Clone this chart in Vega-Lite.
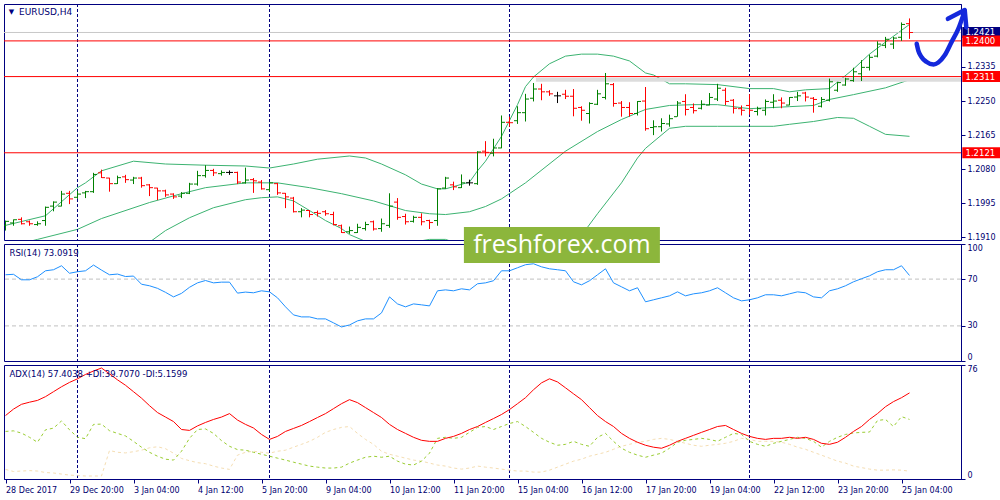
{
"$schema": "https://vega.github.io/schema/vega-lite/v6.json",
"padding": {"left": 3, "top": 3, "right": 0, "bottom": 0},
"bounds": "flush",
"spacing": 4,
"background": "white",
"datasets": {
"bars": [
{"i":0,"o":1.1940,"h":1.1952,"l":1.1927,"c":1.1950,"rsi":73.7,"adx":42.3,"pdi":31.7,"mdi":6.4},
{"i":1,"o":1.1946,"h":1.1955,"l":1.1939,"c":1.1954,"rsi":74.1,"adx":46.6,"pdi":32.1,"mdi":5.0},
{"i":2,"o":1.1955,"h":1.1960,"l":1.1942,"c":1.1944,"rsi":69.4,"adx":49.8,"pdi":30.6,"mdi":5.3},
{"i":3,"o":1.1949,"h":1.1952,"l":1.1939,"c":1.1944,"rsi":69.4,"adx":51.2,"pdi":27.8,"mdi":5.6},
{"i":4,"o":1.1942,"h":1.1950,"l":1.1939,"c":1.1944,"rsi":72.0,"adx":52.4,"pdi":24.5,"mdi":5.3},
{"i":5,"o":1.1952,"h":1.1987,"l":1.1939,"c":1.1985,"rsi":77.1,"adx":54.9,"pdi":32.8,"mdi":4.3},
{"i":6,"o":1.1988,"h":1.2000,"l":1.1975,"c":1.1998,"rsi":78.0,"adx":58.2,"pdi":33.9,"mdi":4.0},
{"i":7,"o":1.1988,"h":1.2026,"l":1.1987,"c":1.2018,"rsi":81.4,"adx":61.5,"pdi":38.7,"mdi":3.3},
{"i":8,"o":1.2020,"h":1.2026,"l":1.1993,"c":1.2006,"rsi":75.0,"adx":64.4,"pdi":32.8,"mdi":2.6},
{"i":9,"o":1.2010,"h":1.2026,"l":1.2006,"c":1.2018,"rsi":76.3,"adx":66.8,"pdi":27.8,"mdi":2.3},
{"i":10,"o":1.2021,"h":1.2026,"l":1.2008,"c":1.2024,"rsi":77.1,"adx":69.7,"pdi":26.9,"mdi":2.0},
{"i":11,"o":1.2024,"h":1.2071,"l":1.2021,"c":1.2067,"rsi":82.0,"adx":72.0,"pdi":36.4,"mdi":2.0},
{"i":12,"o":1.2071,"h":1.2079,"l":1.2058,"c":1.2059,"rsi":77.7,"adx":74.0,"pdi":36.6,"mdi":2.0},
{"i":13,"o":1.2058,"h":1.2059,"l":1.2024,"c":1.2044,"rsi":73.7,"adx":70.1,"pdi":32.2,"mdi":19.0},
{"i":14,"o":1.2044,"h":1.2064,"l":1.2043,"c":1.2059,"rsi":74.3,"adx":66.1,"pdi":30.4,"mdi":17.8},
{"i":15,"o":1.2061,"h":1.2066,"l":1.2046,"c":1.2054,"rsi":72.2,"adx":62.5,"pdi":28.7,"mdi":17.4},
{"i":16,"o":1.2053,"h":1.2061,"l":1.2043,"c":1.2058,"rsi":72.6,"adx":58.2,"pdi":25.1,"mdi":18.2},
{"i":17,"o":1.2058,"h":1.2061,"l":1.2034,"c":1.2039,"rsi":65.6,"adx":53.9,"pdi":21.2,"mdi":19.2},
{"i":18,"o":1.2041,"h":1.2043,"l":1.2013,"c":1.2034,"rsi":64.3,"adx":48.9,"pdi":17.8,"mdi":20.8},
{"i":19,"o":1.2033,"h":1.2034,"l":1.2003,"c":1.2026,"rsi":62.1,"adx":44.3,"pdi":15.2,"mdi":21.5},
{"i":20,"o":1.2026,"h":1.2029,"l":1.2011,"c":1.2016,"rsi":58.7,"adx":41.3,"pdi":13.2,"mdi":20.2},
{"i":21,"o":1.2018,"h":1.2020,"l":1.2006,"c":1.2011,"rsi":54.8,"adx":38.3,"pdi":12.6,"mdi":17.2},
{"i":22,"o":1.2013,"h":1.2023,"l":1.2008,"c":1.2020,"rsi":57.8,"adx":33.0,"pdi":18.5,"mdi":13.7},
{"i":23,"o":1.2020,"h":1.2046,"l":1.2018,"c":1.2043,"rsi":63.0,"adx":32.4,"pdi":27.1,"mdi":12.2},
{"i":24,"o":1.2043,"h":1.2076,"l":1.2039,"c":1.2064,"rsi":66.8,"adx":35.4,"pdi":33.0,"mdi":10.9},
{"i":25,"o":1.2064,"h":1.2090,"l":1.2059,"c":1.2077,"rsi":68.8,"adx":37.7,"pdi":33.4,"mdi":10.2},
{"i":26,"o":1.2077,"h":1.2081,"l":1.2063,"c":1.2071,"rsi":66.8,"adx":39.7,"pdi":30.4,"mdi":8.6},
{"i":27,"o":1.2069,"h":1.2077,"l":1.2064,"c":1.2072,"rsi":67.4,"adx":41.3,"pdi":25.6,"mdi":7.3},
{"i":28,"o":1.2072,"h":1.2077,"l":1.2066,"c":1.2072,"rsi":67.4,"adx":43.6,"pdi":21.8,"mdi":6.4},
{"i":29,"o":1.2072,"h":1.2074,"l":1.2043,"c":1.2048,"rsi":58.0,"adx":39.3,"pdi":19.6,"mdi":15.9},
{"i":30,"o":1.2046,"h":1.2084,"l":1.2044,"c":1.2053,"rsi":58.9,"adx":36.4,"pdi":19.2,"mdi":17.8},
{"i":31,"o":1.2054,"h":1.2058,"l":1.2021,"c":1.2051,"rsi":58.3,"adx":34.0,"pdi":17.8,"mdi":18.5},
{"i":32,"o":1.2048,"h":1.2053,"l":1.2029,"c":1.2031,"rsi":60.0,"adx":29.7,"pdi":16.5,"mdi":17.8},
{"i":33,"o":1.2029,"h":1.2048,"l":1.2024,"c":1.2046,"rsi":59.1,"adx":26.4,"pdi":15.2,"mdi":17.2},
{"i":34,"o":1.2044,"h":1.2046,"l":1.2016,"c":1.2021,"rsi":54.0,"adx":28.4,"pdi":13.9,"mdi":18.5},
{"i":35,"o":1.2020,"h":1.2021,"l":1.1983,"c":1.2011,"rsi":46.3,"adx":31.7,"pdi":12.6,"mdi":19.2},
{"i":36,"o":1.2008,"h":1.2011,"l":1.1972,"c":1.1974,"rsi":39.4,"adx":33.7,"pdi":11.2,"mdi":21.2},
{"i":37,"o":1.1974,"h":1.1983,"l":1.1960,"c":1.1978,"rsi":37.7,"adx":35.7,"pdi":9.9,"mdi":23.1},
{"i":38,"o":1.1977,"h":1.1978,"l":1.1960,"c":1.1967,"rsi":37.7,"adx":38.3,"pdi":8.6,"mdi":25.1},
{"i":39,"o":1.1972,"h":1.1977,"l":1.1962,"c":1.1970,"rsi":36.0,"adx":41.0,"pdi":7.9,"mdi":27.8},
{"i":40,"o":1.1974,"h":1.1978,"l":1.1964,"c":1.1969,"rsi":36.0,"adx":43.6,"pdi":7.3,"mdi":31.1},
{"i":41,"o":1.1967,"h":1.1974,"l":1.1940,"c":1.1942,"rsi":32.6,"adx":46.9,"pdi":7.3,"mdi":33.0},
{"i":42,"o":1.1939,"h":1.1942,"l":1.1921,"c":1.1922,"rsi":29.1,"adx":50.2,"pdi":7.9,"mdi":34.4},
{"i":43,"o":1.1924,"h":1.1937,"l":1.1919,"c":1.1927,"rsi":30.8,"adx":52.9,"pdi":10.6,"mdi":35.0},
{"i":44,"o":1.1922,"h":1.1944,"l":1.1921,"c":1.1935,"rsi":34.3,"adx":50.9,"pdi":12.6,"mdi":30.4},
{"i":45,"o":1.1932,"h":1.1949,"l":1.1927,"c":1.1942,"rsi":36.0,"adx":47.6,"pdi":14.5,"mdi":26.4},
{"i":46,"o":1.1949,"h":1.1952,"l":1.1927,"c":1.1931,"rsi":36.0,"adx":44.3,"pdi":15.2,"mdi":23.1},
{"i":47,"o":1.1932,"h":1.1957,"l":1.1924,"c":1.1944,"rsi":41.1,"adx":41.0,"pdi":14.5,"mdi":18.5},
{"i":48,"o":1.1940,"h":1.2020,"l":1.1934,"c":1.1988,"rsi":54.8,"adx":36.4,"pdi":15.2,"mdi":16.5},
{"i":49,"o":1.1998,"h":1.2008,"l":1.1954,"c":1.1960,"rsi":48.8,"adx":33.0,"pdi":11.9,"mdi":15.2},
{"i":50,"o":1.1962,"h":1.1969,"l":1.1942,"c":1.1949,"rsi":46.3,"adx":30.4,"pdi":9.9,"mdi":13.9},
{"i":51,"o":1.1950,"h":1.1964,"l":1.1947,"c":1.1960,"rsi":48.8,"adx":27.8,"pdi":9.3,"mdi":12.6},
{"i":52,"o":1.1960,"h":1.1970,"l":1.1940,"c":1.1949,"rsi":48.0,"adx":25.8,"pdi":11.9,"mdi":11.9},
{"i":53,"o":1.1952,"h":1.1954,"l":1.1931,"c":1.1947,"rsi":47.1,"adx":25.1,"pdi":17.2,"mdi":10.6},
{"i":54,"o":1.1952,"h":1.2033,"l":1.1939,"c":1.2031,"rsi":60.0,"adx":25.1,"pdi":27.1,"mdi":9.3},
{"i":55,"o":1.2033,"h":1.2061,"l":1.2031,"c":1.2058,"rsi":60.8,"adx":27.1,"pdi":27.8,"mdi":8.6},
{"i":56,"o":1.2041,"h":1.2049,"l":1.2028,"c":1.2036,"rsi":60.0,"adx":28.4,"pdi":27.1,"mdi":7.3},
{"i":57,"o":1.2034,"h":1.2067,"l":1.2033,"c":1.2046,"rsi":61.7,"adx":30.4,"pdi":27.8,"mdi":6.6},
{"i":58,"o":1.2046,"h":1.2054,"l":1.2039,"c":1.2046,"rsi":60.8,"adx":33.0,"pdi":31.1,"mdi":7.3},
{"i":59,"o":1.2044,"h":1.2125,"l":1.2041,"c":1.2123,"rsi":66.0,"adx":35.0,"pdi":34.4,"mdi":8.6},
{"i":60,"o":1.2125,"h":1.2150,"l":1.2112,"c":1.2122,"rsi":66.8,"adx":37.7,"pdi":35.0,"mdi":7.9},
{"i":61,"o":1.2120,"h":1.2156,"l":1.2112,"c":1.2133,"rsi":68.6,"adx":40.3,"pdi":33.0,"mdi":7.3},
{"i":62,"o":1.2133,"h":1.2214,"l":1.2132,"c":1.2197,"rsi":77.1,"adx":43.0,"pdi":35.0,"mdi":6.6},
{"i":63,"o":1.2197,"h":1.2211,"l":1.2186,"c":1.2196,"rsi":77.1,"adx":46.3,"pdi":37.0,"mdi":5.9},
{"i":64,"o":1.2201,"h":1.2237,"l":1.2193,"c":1.2221,"rsi":79.7,"adx":50.2,"pdi":38.3,"mdi":5.3},
{"i":65,"o":1.2221,"h":1.2268,"l":1.2199,"c":1.2255,"rsi":82.3,"adx":54.2,"pdi":35.0,"mdi":5.3},
{"i":66,"o":1.2257,"h":1.2295,"l":1.2249,"c":1.2280,"rsi":83.1,"adx":59.5,"pdi":31.1,"mdi":4.6},
{"i":67,"o":1.2280,"h":1.2293,"l":1.2252,"c":1.2273,"rsi":80.5,"adx":64.1,"pdi":27.1,"mdi":4.6},
{"i":68,"o":1.2273,"h":1.2277,"l":1.2263,"c":1.2268,"rsi":78.8,"adx":66.8,"pdi":24.5,"mdi":5.9},
{"i":69,"o":1.2263,"h":1.2273,"l":1.2245,"c":1.2263,"rsi":78.0,"adx":64.7,"pdi":22.5,"mdi":7.9},
{"i":70,"o":1.2267,"h":1.2278,"l":1.2255,"c":1.2262,"rsi":77.1,"adx":60.8,"pdi":23.1,"mdi":9.9},
{"i":71,"o":1.2262,"h":1.2280,"l":1.2212,"c":1.2232,"rsi":67.7,"adx":56.8,"pdi":25.1,"mdi":11.9},
{"i":72,"o":1.2234,"h":1.2237,"l":1.2201,"c":1.2227,"rsi":65.1,"adx":52.9,"pdi":23.1,"mdi":13.2},
{"i":73,"o":1.2219,"h":1.2247,"l":1.2194,"c":1.2244,"rsi":68.6,"adx":47.6,"pdi":21.8,"mdi":15.2},
{"i":74,"o":1.2242,"h":1.2278,"l":1.2240,"c":1.2268,"rsi":73.7,"adx":42.3,"pdi":27.8,"mdi":16.5},
{"i":75,"o":1.2259,"h":1.2320,"l":1.2254,"c":1.2293,"rsi":78.8,"adx":38.3,"pdi":30.4,"mdi":17.8},
{"i":76,"o":1.2291,"h":1.2295,"l":1.2236,"c":1.2244,"rsi":66.8,"adx":35.0,"pdi":25.1,"mdi":19.8},
{"i":77,"o":1.2245,"h":1.2250,"l":1.2211,"c":1.2234,"rsi":63.4,"adx":30.4,"pdi":20.5,"mdi":21.8},
{"i":78,"o":1.2234,"h":1.2247,"l":1.2211,"c":1.2219,"rsi":60.0,"adx":27.1,"pdi":17.8,"mdi":23.1},
{"i":79,"o":1.2219,"h":1.2250,"l":1.2214,"c":1.2249,"rsi":62.6,"adx":24.5,"pdi":15.9,"mdi":24.5},
{"i":80,"o":1.2250,"h":1.2285,"l":1.2176,"c":1.2181,"rsi":50.6,"adx":22.5,"pdi":14.5,"mdi":25.1},
{"i":81,"o":1.2184,"h":1.2202,"l":1.2165,"c":1.2186,"rsi":52.3,"adx":21.2,"pdi":15.9,"mdi":26.4},
{"i":82,"o":1.2186,"h":1.2207,"l":1.2174,"c":1.2194,"rsi":54.0,"adx":20.5,"pdi":17.2,"mdi":27.1},
{"i":83,"o":1.2193,"h":1.2216,"l":1.2186,"c":1.2206,"rsi":55.7,"adx":22.5,"pdi":20.5,"mdi":26.4},
{"i":84,"o":1.2211,"h":1.2250,"l":1.2211,"c":1.2245,"rsi":59.1,"adx":25.1,"pdi":24.5,"mdi":25.1},
{"i":85,"o":1.2249,"h":1.2267,"l":1.2214,"c":1.2229,"rsi":55.7,"adx":27.1,"pdi":25.8,"mdi":23.8},
{"i":86,"o":1.2234,"h":1.2244,"l":1.2219,"c":1.2226,"rsi":57.4,"adx":29.1,"pdi":26.4,"mdi":22.5},
{"i":87,"o":1.2232,"h":1.2252,"l":1.2229,"c":1.2242,"rsi":58.3,"adx":31.1,"pdi":27.1,"mdi":21.8},
{"i":88,"o":1.2240,"h":1.2270,"l":1.2239,"c":1.2259,"rsi":60.0,"adx":33.0,"pdi":26.4,"mdi":22.5},
{"i":89,"o":1.2255,"h":1.2293,"l":1.2250,"c":1.2282,"rsi":62.6,"adx":35.0,"pdi":25.1,"mdi":23.1},
{"i":90,"o":1.2277,"h":1.2283,"l":1.2240,"c":1.2249,"rsi":58.3,"adx":35.7,"pdi":27.8,"mdi":23.8},
{"i":91,"o":1.2252,"h":1.2255,"l":1.2219,"c":1.2232,"rsi":54.0,"adx":33.0,"pdi":30.4,"mdi":25.1},
{"i":92,"o":1.2231,"h":1.2239,"l":1.2214,"c":1.2227,"rsi":51.4,"adx":30.4,"pdi":29.7,"mdi":27.1},
{"i":93,"o":1.2239,"h":1.2267,"l":1.2216,"c":1.2227,"rsi":52.3,"adx":28.4,"pdi":25.1,"mdi":26.4},
{"i":94,"o":1.2224,"h":1.2236,"l":1.2214,"c":1.2231,"rsi":54.0,"adx":27.1,"pdi":23.1,"mdi":25.1},
{"i":95,"o":1.2227,"h":1.2254,"l":1.2214,"c":1.2249,"rsi":56.6,"adx":26.4,"pdi":21.8,"mdi":25.1},
{"i":96,"o":1.2247,"h":1.2267,"l":1.2232,"c":1.2250,"rsi":56.6,"adx":27.1,"pdi":23.8,"mdi":25.1},
{"i":97,"o":1.2252,"h":1.2259,"l":1.2232,"c":1.2245,"rsi":55.7,"adx":27.1,"pdi":25.1,"mdi":24.5},
{"i":98,"o":1.2240,"h":1.2260,"l":1.2239,"c":1.2259,"rsi":57.4,"adx":27.8,"pdi":26.4,"mdi":23.1},
{"i":99,"o":1.2260,"h":1.2273,"l":1.2250,"c":1.2263,"rsi":59.1,"adx":27.1,"pdi":27.8,"mdi":21.2},
{"i":100,"o":1.2270,"h":1.2273,"l":1.2249,"c":1.2260,"rsi":58.3,"adx":27.8,"pdi":27.1,"mdi":19.8},
{"i":101,"o":1.2257,"h":1.2260,"l":1.2221,"c":1.2254,"rsi":54.8,"adx":26.4,"pdi":25.1,"mdi":17.8},
{"i":102,"o":1.2237,"h":1.2260,"l":1.2234,"c":1.2254,"rsi":54.0,"adx":23.8,"pdi":21.2,"mdi":15.9},
{"i":103,"o":1.2252,"h":1.2306,"l":1.2249,"c":1.2298,"rsi":60.0,"adx":23.1,"pdi":25.1,"mdi":13.9},
{"i":104,"o":1.2277,"h":1.2298,"l":1.2273,"c":1.2296,"rsi":61.7,"adx":24.5,"pdi":27.8,"mdi":11.9},
{"i":105,"o":1.2290,"h":1.2308,"l":1.2288,"c":1.2305,"rsi":64.3,"adx":27.8,"pdi":29.7,"mdi":10.6},
{"i":106,"o":1.2301,"h":1.2333,"l":1.2298,"c":1.2323,"rsi":67.7,"adx":31.7,"pdi":30.7,"mdi":8.6},
{"i":107,"o":1.2318,"h":1.2352,"l":1.2300,"c":1.2334,"rsi":70.3,"adx":35.0,"pdi":31.1,"mdi":7.6},
{"i":108,"o":1.2334,"h":1.2366,"l":1.2326,"c":1.2359,"rsi":72.8,"adx":39.7,"pdi":31.3,"mdi":6.6},
{"i":109,"o":1.2362,"h":1.2399,"l":1.2359,"c":1.2392,"rsi":76.3,"adx":43.6,"pdi":39.0,"mdi":5.9},
{"i":110,"o":1.2389,"h":1.2410,"l":1.2382,"c":1.2404,"rsi":78.0,"adx":48.2,"pdi":39.7,"mdi":5.9},
{"i":111,"o":1.2392,"h":1.2410,"l":1.2380,"c":1.2407,"rsi":78.0,"adx":51.6,"pdi":35.0,"mdi":6.1},
{"i":112,"o":1.2409,"h":1.2446,"l":1.2400,"c":1.2441,"rsi":81.4,"adx":54.2,"pdi":41.6,"mdi":5.9},
{"i":113,"o":1.2443,"h":1.2456,"l":1.2405,"c":1.2421,"rsi":73.1,"adx":57.4,"pdi":39.7,"mdi":5.2}
],
"bb": [
{"b":"u","i":0,"p":1.1940},{"b":"u","i":5,"p":1.1964},{"b":"u","i":9,"p":1.2034},{"b":"u","i":10,"p":1.2046},{"b":"u","i":12,"p":1.2076},{"b":"u","i":16,"p":1.2100},{"b":"u","i":20,"p":1.2093},{"b":"u","i":25,"p":1.2090},{"b":"u","i":30,"p":1.2088},{"b":"u","i":33,"p":1.2083},{"b":"u","i":36,"p":1.2093},{"b":"u","i":39,"p":1.2105},{"b":"u","i":43,"p":1.2113},{"b":"u","i":45,"p":1.2108},{"b":"u","i":47,"p":1.2093},{"b":"u","i":50,"p":1.2066},{"b":"u","i":52,"p":1.2043},{"b":"u","i":54,"p":1.2031},{"b":"u","i":55,"p":1.2031},{"b":"u","i":58,"p":1.2048},{"b":"u","i":59,"p":1.2076},{"b":"u","i":60,"p":1.2100},{"b":"u","i":62,"p":1.2162},{"b":"u","i":64,"p":1.2241},{"b":"u","i":65,"p":1.2286},{"b":"u","i":66,"p":1.2310},{"b":"u","i":68,"p":1.2343},{"b":"u","i":70,"p":1.2362},{"b":"u","i":72,"p":1.2367},{"b":"u","i":74,"p":1.2367},{"b":"u","i":76,"p":1.2362},{"b":"u","i":78,"p":1.2350},{"b":"u","i":80,"p":1.2320},{"b":"u","i":81,"p":1.2315},{"b":"u","i":83,"p":1.2293},{"b":"u","i":85,"p":1.2293},{"b":"u","i":89,"p":1.2291},{"b":"u","i":93,"p":1.2281},{"b":"u","i":96,"p":1.2281},{"b":"u","i":98,"p":1.2273},{"b":"u","i":100,"p":1.2278},{"b":"u","i":103,"p":1.2281},{"b":"u","i":106,"p":1.2330},{"b":"u","i":108,"p":1.2367},{"b":"u","i":110,"p":1.2397},{"b":"u","i":113,"p":1.2441},
{"b":"m","i":0,"p":1.1885},{"b":"m","i":4,"p":1.1905},{"b":"m","i":9,"p":1.1930},{"b":"m","i":12,"p":1.1957},{"b":"m","i":18,"p":1.1997},{"b":"m","i":22,"p":1.2019},{"b":"m","i":25,"p":1.2034},{"b":"m","i":30,"p":1.2046},{"b":"m","i":34,"p":1.2046},{"b":"m","i":38,"p":1.2034},{"b":"m","i":42,"p":1.2019},{"b":"m","i":46,"p":1.2001},{"b":"m","i":50,"p":1.1977},{"b":"m","i":53,"p":1.1969},{"b":"m","i":55,"p":1.1967},{"b":"m","i":58,"p":1.1974},{"b":"m","i":60,"p":1.1987},{"b":"m","i":62,"p":1.2006},{"b":"m","i":65,"p":1.2046},{"b":"m","i":70,"p":1.2125},{"b":"m","i":74,"p":1.2174},{"b":"m","i":77,"p":1.2204},{"b":"m","i":80,"p":1.2229},{"b":"m","i":83,"p":1.2239},{"b":"m","i":86,"p":1.2241},{"b":"m","i":89,"p":1.2241},{"b":"m","i":93,"p":1.2231},{"b":"m","i":98,"p":1.2236},{"b":"m","i":101,"p":1.2239},{"b":"m","i":103,"p":1.2254},{"b":"m","i":106,"p":1.2266},{"b":"m","i":110,"p":1.2283},{"b":"m","i":113,"p":1.2303},
{"b":"l","i":0,"p":1.1820},{"b":"l","i":10,"p":1.1850},{"b":"l","i":16,"p":1.1880},{"b":"l","i":18,"p":1.1898},{"b":"l","i":20,"p":1.1927},{"b":"l","i":23,"p":1.1959},{"b":"l","i":26,"p":1.1984},{"b":"l","i":30,"p":1.2004},{"b":"l","i":32,"p":1.2009},{"b":"l","i":34,"p":1.2011},{"b":"l","i":36,"p":1.2001},{"b":"l","i":38,"p":1.1977},{"b":"l","i":40,"p":1.1952},{"b":"l","i":42,"p":1.1932},{"b":"l","i":43,"p":1.1917},{"b":"l","i":45,"p":1.1900},{"b":"l","i":48,"p":1.1890},{"b":"l","i":50,"p":1.1895},{"b":"l","i":53,"p":1.1905},{"b":"l","i":55,"p":1.1905},{"b":"l","i":58,"p":1.1885},{"b":"l","i":62,"p":1.1840},{"b":"l","i":66,"p":1.1830},{"b":"l","i":70,"p":1.1870},{"b":"l","i":72,"p":1.1915},{"b":"l","i":74,"p":1.1969},{"b":"l","i":77,"p":1.2046},{"b":"l","i":79,"p":1.2108},{"b":"l","i":80,"p":1.2132},{"b":"l","i":83,"p":1.2182},{"b":"l","i":85,"p":1.2187},{"b":"l","i":89,"p":1.2187},{"b":"l","i":96,"p":1.2187},{"b":"l","i":98,"p":1.2192},{"b":"l","i":101,"p":1.2199},{"b":"l","i":104,"p":1.2209},{"b":"l","i":106,"p":1.2207},{"b":"l","i":108,"p":1.2187},{"b":"l","i":110,"p":1.2167},{"b":"l","i":113,"p":1.2162}
],
"levels": [{"p":1.2400},{"p":1.2311},{"p":1.2121}],
"seps": [{"i":9},{"i":33},{"i":63},{"i":93}],
"arrow": [
{"s":"c","k":0,"i":113.9,"p":1.2393},{"s":"c","k":1,"i":114.1,"p":1.2376},{"s":"c","k":2,"i":114.5,"p":1.2360},{"s":"c","k":3,"i":115.1,"p":1.2348},{"s":"c","k":4,"i":116.0,"p":1.2341},{"s":"c","k":5,"i":116.6,"p":1.2346},{"s":"c","k":6,"i":117.4,"p":1.2364},{"s":"c","k":7,"i":118.25,"p":1.2397},{"s":"c","k":8,"i":119.1,"p":1.2430},{"s":"c","k":9,"i":119.7,"p":1.2463},{"s":"c","k":10,"i":119.9,"p":1.2475},
{"s":"h","k":0,"i":117.8,"p":1.2455},{"s":"h","k":1,"i":119.9,"p":1.2477},{"s":"h","k":2,"i":120.1,"p":1.2434}
]
},
"vconcat": [
{
"width": 957, "height": 236,
"resolve": {"axis": {"x": "independent", "y": "independent"}},
"layer": [
{"data": {"name": "bb"}, "mark": {"type": "line", "clip": true, "strokeWidth": 1, "color": "#3cb371"},
 "encoding": {
  "x": {"field": "i", "type": "quantitative", "scale": {"domain": [-0.1875, 119.4375], "nice": false, "zero": false}, "axis": null},
  "y": {"field": "p", "type": "quantitative", "scale": {"domain": [1.19035, 1.2492], "nice": false, "zero": false},
        "axis": {"orient": "right", "values": [1.191, 1.1995, 1.208, 1.2165, 1.225, 1.2335], "format": ".4f", "title": null, "labelOverlap": false}},
  "detail": {"field": "b", "type": "nominal"}}},
{"data": {"name": "seps"}, "mark": {"type": "rule", "color": "#000080", "strokeDash": [3, 2], "strokeWidth": 1},
 "encoding": {"x": {"field": "i", "type": "quantitative", "axis": null}}},
{"data": {"values": [{"p": 1.2421}]}, "mark": {"type": "rule", "color": "#c8c8c8", "strokeWidth": 1},
 "encoding": {"y": {"field": "p", "type": "quantitative", "axis": null}}},
{"data": {"values": [{"p": 1.2303}]}, "mark": {"type": "rule", "color": "#dcdcdc", "strokeWidth": 4, "clip": true},
 "encoding": {"x": {"datum": 66.3, "axis": null}, "x2": {"datum": 119.44}, "y": {"field": "p", "type": "quantitative", "axis": null}}},
{"data": {"name": "levels"}, "mark": {"type": "rule", "color": "#ff0000", "strokeWidth": 1},
 "encoding": {"y": {"field": "p", "type": "quantitative", "axis": null}}},
{"data": {"name": "bars"}, "transform": [{"filter": "datum.c > datum.o"}], "mark": {"type": "rule", "strokeWidth": 1, "color": "#008000", "clip": true},
 "encoding": {"x": {"field": "i", "type": "quantitative", "axis": null}, "y": {"field": "l", "type": "quantitative", "axis": null}, "y2": {"field": "h"}}},
{"data": {"name": "bars"}, "transform": [{"filter": "datum.c > datum.o"}], "mark": {"type": "tick", "orient": "horizontal", "size": 3, "thickness": 1, "xOffset": -2, "opacity": 1, "color": "#008000", "clip": true},
 "encoding": {"x": {"field": "i", "type": "quantitative", "axis": null}, "y": {"field": "o", "type": "quantitative", "axis": null}}},
{"data": {"name": "bars"}, "transform": [{"filter": "datum.c > datum.o"}], "mark": {"type": "tick", "orient": "horizontal", "size": 3, "thickness": 1, "xOffset": 2, "opacity": 1, "color": "#008000", "clip": true},
 "encoding": {"x": {"field": "i", "type": "quantitative", "axis": null}, "y": {"field": "c", "type": "quantitative", "axis": null}}},
{"data": {"name": "bars"}, "transform": [{"filter": "datum.c < datum.o"}], "mark": {"type": "rule", "strokeWidth": 1, "color": "#ff0000", "clip": true},
 "encoding": {"x": {"field": "i", "type": "quantitative", "axis": null}, "y": {"field": "l", "type": "quantitative", "axis": null}, "y2": {"field": "h"}}},
{"data": {"name": "bars"}, "transform": [{"filter": "datum.c < datum.o"}], "mark": {"type": "tick", "orient": "horizontal", "size": 3, "thickness": 1, "xOffset": -2, "opacity": 1, "color": "#ff0000", "clip": true},
 "encoding": {"x": {"field": "i", "type": "quantitative", "axis": null}, "y": {"field": "o", "type": "quantitative", "axis": null}}},
{"data": {"name": "bars"}, "transform": [{"filter": "datum.c < datum.o"}], "mark": {"type": "tick", "orient": "horizontal", "size": 3, "thickness": 1, "xOffset": 2, "opacity": 1, "color": "#ff0000", "clip": true},
 "encoding": {"x": {"field": "i", "type": "quantitative", "axis": null}, "y": {"field": "c", "type": "quantitative", "axis": null}}},
{"data": {"name": "bars"}, "transform": [{"filter": "datum.c == datum.o"}], "mark": {"type": "rule", "strokeWidth": 1, "color": "#000000", "clip": true},
 "encoding": {"x": {"field": "i", "type": "quantitative", "axis": null}, "y": {"field": "l", "type": "quantitative", "axis": null}, "y2": {"field": "h"}}},
{"data": {"name": "bars"}, "transform": [{"filter": "datum.c == datum.o"}], "mark": {"type": "tick", "orient": "horizontal", "size": 7, "thickness": 1, "opacity": 1, "color": "#000000", "clip": true},
 "encoding": {"x": {"field": "i", "type": "quantitative", "axis": null}, "y": {"field": "c", "type": "quantitative", "axis": null}}},
{"data": {"values": [{"p": 1.2421}]}, "mark": {"type": "tick", "orient": "horizontal", "size": 40, "thickness": 11, "opacity": 1, "color": "#000080", "clip": false},
 "encoding": {"x": {"datum": 122.1, "axis": null}, "y": {"field": "p", "type": "quantitative", "axis": null}}},
{"data": {"name": "levels"}, "mark": {"type": "tick", "orient": "horizontal", "size": 40, "thickness": 11, "opacity": 1, "color": "#ff0000", "clip": false},
 "encoding": {"x": {"datum": 122.1, "axis": null}, "y": {"field": "p", "type": "quantitative", "axis": null}}},
{"data": {"values": [{"p": 1.2421}, {"p": 1.2400}, {"p": 1.2311}, {"p": 1.2121}]}, "mark": {"type": "text", "align": "left", "baseline": "middle", "color": "#ffffff", "fontSize": 8.5, "font": "DejaVu Sans", "clip": false},
 "encoding": {"x": {"datum": 120.0, "axis": null}, "y": {"field": "p", "type": "quantitative", "axis": null}, "text": {"field": "p", "type": "quantitative", "format": ".4f"}}},
{"data": {"name": "arrow"}, "transform": [{"filter": "datum.s == 'c'"}], "mark": {"type": "line", "interpolate": "monotone", "color": "#1428dc", "strokeWidth": 4.5, "strokeCap": "round", "strokeJoin": "round", "clip": false},
 "encoding": {"x": {"field": "i", "type": "quantitative", "axis": null}, "y": {"field": "p", "type": "quantitative", "axis": null}, "order": {"field": "k", "type": "quantitative"}}},
{"data": {"name": "arrow"}, "transform": [{"filter": "datum.s == 'h'"}], "mark": {"type": "line", "color": "#1428dc", "strokeWidth": 4.5, "strokeCap": "round", "strokeJoin": "round", "clip": false},
 "encoding": {"x": {"field": "i", "type": "quantitative", "axis": null}, "y": {"field": "p", "type": "quantitative", "axis": null}, "order": {"field": "k", "type": "quantitative"}}},
{"data": {"values": [{"t": "EURUSD,H4"}]}, "mark": {"type": "text", "align": "left", "baseline": "middle", "color": "#000070", "fontSize": 9, "font": "DejaVu Sans"},
 "encoding": {"x": {"datum": 1.7, "axis": null}, "y": {"datum": 1.2471, "axis": null}, "text": {"field": "t", "type": "nominal"}}},
{"data": {"values": [{"t": "▼"}]}, "mark": {"type": "text", "align": "center", "baseline": "middle", "color": "#000080", "fontSize": 7, "font": "DejaVu Sans"},
 "encoding": {"x": {"datum": 0.75, "axis": null}, "y": {"datum": 1.2471, "axis": null}, "text": {"field": "t", "type": "nominal"}}}
]
},
{
"width": 957, "height": 117,
"resolve": {"axis": {"x": "independent", "y": "independent"}},
"layer": [
{"data": {"values": [{"v": 70}, {"v": 30}]}, "mark": {"type": "rule", "color": "#c0c0c0", "strokeDash": [4, 3], "strokeWidth": 1},
 "encoding": {"y": {"field": "v", "type": "quantitative", "scale": {"domain": [0, 100], "nice": false},
  "axis": {"orient": "right", "values": [0, 30, 70, 100], "title": null, "labelFlush": true}}}},
{"data": {"name": "seps"}, "mark": {"type": "rule", "color": "#000080", "strokeDash": [3, 2], "strokeWidth": 1},
 "encoding": {"x": {"field": "i", "type": "quantitative", "axis": null}}},
{"data": {"name": "bars"}, "mark": {"type": "line", "color": "#1e90ff", "strokeWidth": 1},
 "encoding": {"x": {"field": "i", "type": "quantitative", "scale": {"domain": [-0.1875, 119.4375], "nice": false, "zero": false}, "axis": null},
  "y": {"field": "rsi", "type": "quantitative", "axis": null}}},
{"data": {"values": [{"t": "RSI(14) 73.0919"}]}, "mark": {"type": "text", "align": "left", "baseline": "middle", "color": "#000070", "fontSize": 8.5, "font": "DejaVu Sans"},
 "encoding": {"x": {"datum": 0.5, "axis": null}, "y": {"datum": 92.5, "axis": null}, "text": {"field": "t", "type": "nominal"}}},
{"data": {"values": [{"t": "freshforex.com"}]}, "mark": {"type": "tick", "orient": "horizontal", "size": 196, "thickness": 36, "opacity": 1, "color": "#8cb63c", "clip": false},
 "encoding": {"x": {"datum": 69.55, "axis": null}, "y": {"datum": 99.2, "axis": null}}},
{"data": {"values": [{"t": "freshforex.com"}]}, "mark": {"type": "text", "align": "center", "baseline": "middle", "color": "#ffffff", "fontSize": 25, "font": "Open Sans", "clip": false},
 "encoding": {"x": {"datum": 69.55, "axis": null}, "y": {"datum": 99.2, "axis": null}, "text": {"field": "t", "type": "nominal"}}}
]
},
{
"width": 957, "height": 114,
"resolve": {"axis": {"x": "independent", "y": "independent"}},
"layer": [
{"data": {"name": "seps"}, "mark": {"type": "rule", "color": "#000080", "strokeDash": [3, 2], "strokeWidth": 1},
 "encoding": {"x": {"field": "i", "type": "quantitative", "axis": null}}},
{"data": {"name": "bars"}, "mark": {"type": "line", "color": "#f5deb3", "strokeWidth": 1, "strokeDash": [3, 3]},
 "encoding": {"x": {"field": "i", "type": "quantitative", "axis": null}, "y": {"field": "mdi", "type": "quantitative", "axis": null}}},
{"data": {"name": "bars"}, "mark": {"type": "line", "color": "#9acd32", "strokeWidth": 1, "strokeDash": [3, 3]},
 "encoding": {"x": {"field": "i", "type": "quantitative", "axis": null}, "y": {"field": "pdi", "type": "quantitative", "axis": null}}},
{"data": {"name": "bars"}, "mark": {"type": "line", "color": "#ff0000", "strokeWidth": 1},
 "encoding": {
  "x": {"field": "i", "type": "quantitative", "scale": {"domain": [-0.1875, 119.4375], "nice": false, "zero": false},
   "axis": {"orient": "bottom", "values": [0, 8, 16, 24, 32, 40, 48, 56, 64, 72, 80, 88, 96, 104, 112], "title": null,
    "labelAlign": "left", "labelOverlap": false, "labelBound": false, "labelFlush": false, "labelPadding": 3,
    "labelExpr": "['28 Dec 2017','29 Dec 20:00','3 Jan 04:00','4 Jan 12:00','5 Jan 20:00','9 Jan 04:00','10 Jan 12:00','11 Jan 20:00','15 Jan 04:00','16 Jan 12:00','17 Jan 20:00','19 Jan 04:00','22 Jan 12:00','23 Jan 20:00','25 Jan 04:00'][round(datum.value/8)]"}},
  "y": {"field": "adx", "type": "quantitative", "scale": {"domain": [0, 76], "nice": false},
   "axis": {"orient": "right", "values": [0, 76], "title": null, "labelFlush": true}}}},
{"data": {"values": [{"t": "ADX(14) 57.4038 +DI:39.7070 -DI:5.1599"}]}, "mark": {"type": "text", "align": "left", "baseline": "middle", "color": "#000070", "fontSize": 8.5, "font": "DejaVu Sans"},
 "encoding": {"x": {"datum": 0.5, "axis": null}, "y": {"datum": 70, "axis": null}, "text": {"field": "t", "type": "nominal"}}}
]
}
],
"resolve": {"scale": {"x": "independent", "y": "independent"}},
"config": {
 "view": {"stroke": "#000080", "strokeWidth": 1},
 "axis": {"domainColor": "#000080", "tickColor": "#000080", "labelColor": "#000070", "labelFont": "DejaVu Sans", "labelFontSize": 8, "grid": false, "tickSize": 4, "labelPadding": 2, "domainWidth": 1, "tickWidth": 1},
 "text": {"font": "DejaVu Sans"}
}
}
